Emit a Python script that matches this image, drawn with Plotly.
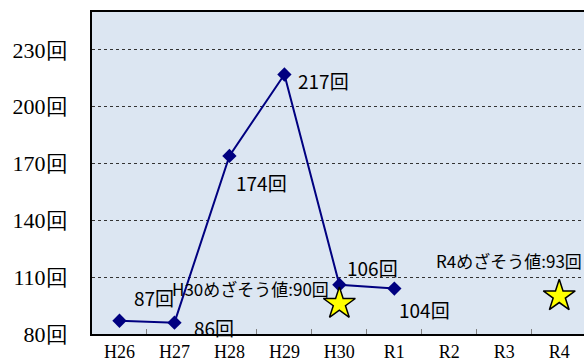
import plotly.graph_objects as go

categories = ["H26", "H27", "H28", "H29", "H30", "R1", "R2", "R3", "R4"]
actual_cats = ["H26", "H27", "H28", "H29", "H30", "R1"]
actual_values = [87, 86, 174, 217, 106, 104]
goal_cats = ["H30", "R4"]
goal_values = [90, 93]
star_values = [96, 100]
y_tickvals = [80, 110, 140, 170, 200, 230]
y_ticktext = [f"{v}回" for v in y_tickvals]

navy = "#000080"
label_font = dict(family="Noto Sans CJK JP", size=19, color="#000000")
goal_font = dict(family="Noto Sans CJK JP", size=17, color="#000000")

fig = go.Figure()
fig.add_trace(go.Scatter(
    x=actual_cats, y=actual_values, mode="lines+markers",
    line=dict(color=navy, width=2),
    marker=dict(symbol="diamond", size=11, color=navy),
    hoverinfo="skip", showlegend=False,
))
fig.add_trace(go.Scatter(
    x=goal_cats, y=star_values, mode="markers",
    marker=dict(symbol="star", size=24, color="#ffff00", line=dict(color="#000000", width=1.5)),
    hoverinfo="skip", showlegend=False,
))

shifts = [(13, 23), (18, -5), (5, -27), (12, -6), (6, 17), (3, -21)]
for c, v, (dx, dy) in zip(actual_cats, actual_values, shifts):
    fig.add_annotation(x=c, y=v, text=f"{v}回", showarrow=False, xanchor="left",
                       yanchor="middle", xshift=dx, yshift=dy, font=label_font)

goal_shifts = [(-8, 15), (25, 36)]
for c, s, g, (dx, dy) in zip(goal_cats, star_values, goal_values, goal_shifts):
    fig.add_annotation(x=c, y=s, text=f"{c}めざそう値:{g}回", showarrow=False, xanchor="right",
                       yanchor="middle", xshift=dx, yshift=dy, font=goal_font)

fig.update_layout(
    width=584, height=364,
    margin=dict(l=92, r=0, t=12, b=30),
    paper_bgcolor="#ffffff", plot_bgcolor="#dce6f2",
    xaxis=dict(
        type="category", categoryorder="array", categoryarray=categories,
        range=[-0.5, 8.45], showgrid=False, showline=True, linecolor="#000000", linewidth=2,
        mirror=True, ticks="inside", tickson="boundaries", ticklen=5, tickcolor="#808080",
        tickfont=dict(family="Liberation Serif", size=18, color="#000000"), automargin=False,
    ),
    yaxis=dict(
        range=[80, 250], tickvals=y_tickvals, ticktext=y_ticktext,
        showgrid=True, gridcolor="#333333", griddash="dot", gridwidth=1,
        showline=True, linecolor="#000000", linewidth=2, ticks="", zeroline=False,
        tickfont=dict(family="Liberation Serif", size=22, color="#000000"), ticklabelstandoff=18,
        automargin=False,
    ),
)

fig.write_html("out.html", config={"displayModeBar": False},
               post_script="document.body.style.margin='0';document.body.style.overflow='hidden';")
